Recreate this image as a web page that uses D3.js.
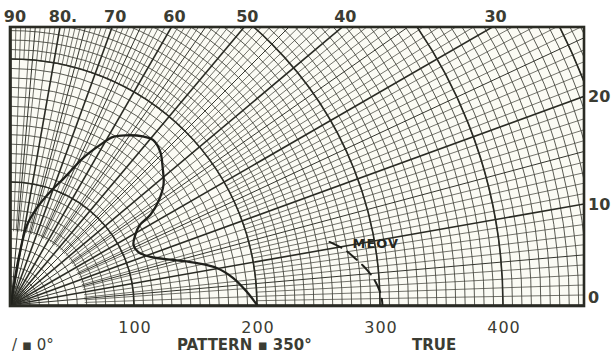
<!DOCTYPE html>
<html>
<head>
<meta charset="utf-8">
<script src="https://cdn.jsdelivr.net/npm/d3@7"></script>
<style>
    body { margin: 0; background: #ffffff; }
    text { font-family: "DejaVu Sans", sans-serif; fill: #3b3c33; }
</style>
</head>
<body>
<div id="chart"></div>
<script>
// elevation angle labels (degrees) along the top and right edges
const topAngles = [90, 80, 70, 60, 50, 40, 30];
const rightAngles = [20, 10, 0];
// field scale labels along the bottom
const fieldTicks = [100, 200, 300, 400];

// measured vertical pattern: elevation (deg) and field
const patternElev  = [90, 81.6, 80.4, 78.7, 75.0, 71.0, 66.7, 63.9, 60.9, 58.7, 55.7, 52.0, 49.3, 45.8,
                      42.0, 38.3, 35.0, 32.9, 31.8, 29.4, 26.2, 22.7, 19.0, 15.5, 12.7, 10.2, 6.9, 3.2, 0];
const patternField = [0, 22, 44, 66, 82, 97, 115, 133, 149, 160, 167, 174, 177, 174,
                      166, 158, 146, 135, 123, 116, 111, 112, 120, 137, 155, 170, 182, 192, 200];

// MEOV (dashed) near the horizon
const meovElev  = [11.2, 9.4, 7.8, 5.6, 3.6, 1.5, 0];
const meovField = [264, 275, 282, 291, 297, 301, 302];

class VerticalPattern {
    constructor(target, width=612, height=356) {
        this.origin = { x: 11, y: 305 };
        this.frame = { left: 10, top: 27, right: 584, bottom: 306 };
        this.maxField = 540;
        this.r = d3.scaleLinear()
                   .domain([0, 400])
                   .range([0, 492]);

        this.svg = d3.select(target)
                     .append("svg")
                     .attr("width", width)
                     .attr("height", height);

        this.svg.append("defs")
                .append("clipPath")
                .attr("id", "frame-clip")
                .append("rect")
                .attr("x", this.frame.left)
                .attr("y", this.frame.top)
                .attr("width", this.frame.right - this.frame.left)
                .attr("height", this.frame.bottom - this.frame.top);

        this.svg.append("rect")
                .attr("x", this.frame.left)
                .attr("y", this.frame.top)
                .attr("width", this.frame.right - this.frame.left)
                .attr("height", this.frame.bottom - this.frame.top)
                .style("fill", "#fbfbf4");

        this.plot = this.svg.append("g")
                            .attr("clip-path", "url(#frame-clip)")
                            .append("g")
                            .attr("transform", `translate(${this.origin.x}, ${this.origin.y})`);
    }

    point(elev, field) {
        let a = elev * Math.PI / 180;
        return [this.r(field) * Math.cos(a), -this.r(field) * Math.sin(a)];
    }

    drawGrid() {
        let this_ = this;
        let ringStep = 100 / 13;
        let rings = d3.range(1, Math.floor(this.maxField / ringStep) + 1).map(i => i * ringStep);

        this.plot.append("g")
            .selectAll("circle")
            .data(rings)
            .enter()
            .append("circle")
            .attr("r", d => this_.r(d))
            .style("fill", "none")
            .style("stroke", "#3c3d35")
            .style("stroke-width", 0.85);

        // radials: heavy every 10, medium every 5, fine every 2 then every 1 further out
        let radials = d3.range(0, 91).map(function(deg) {
            let start = 200, w = 0.75, c = "#45463d";
            if (deg % 10 == 0) { start = 0; w = 1.6; c = "#2a2b24"; }
            else if (deg % 5 == 0) { start = 6; w = 1.0; c = "#34352e"; }
            else if (deg % 2 == 0) { start = 60; }
            return { deg: deg, start: start, w: w, c: c };
        });

        this.plot.append("g")
            .selectAll("line")
            .data(radials)
            .enter()
            .append("line")
            .attr("x1", d => this_.point(d.deg, d.start)[0])
            .attr("y1", d => this_.point(d.deg, d.start)[1])
            .attr("x2", d => this_.point(d.deg, this_.maxField)[0])
            .attr("y2", d => this_.point(d.deg, this_.maxField)[1])
            .style("stroke", d => d.c)
            .style("stroke-width", d => d.w);

        this.plot.append("g")
            .selectAll("circle")
            .data([100, 200, 300, 400, 500])
            .enter()
            .append("circle")
            .attr("r", d => this_.r(d))
            .style("fill", "none")
            .style("stroke", "#2a2b24")
            .style("stroke-width", 1.6);

        this.svg.append("rect")
            .attr("x", this.frame.left)
            .attr("y", this.frame.top)
            .attr("width", this.frame.right - this.frame.left)
            .attr("height", this.frame.bottom - this.frame.top)
            .style("fill", "none")
            .style("stroke", "#2a2b24")
            .style("stroke-width", 2.6);
    }

    addPattern(elev, field, dashed) {
        let this_ = this;
        let pts = elev.map((e, i) => this_.point(e, field[i]));
        let lineGenerator = d3.line()
                              .curve(d3.curveCatmullRom.alpha(0.5));
        this.plot.append("path")
            .attr("d", lineGenerator(pts))
            .style("fill", "none")
            .style("stroke", "#1f201b")
            .style("stroke-width", dashed ? 2 : 2.3)
            .style("stroke-dasharray", dashed ? "13,7" : null)
            .style("stroke-linecap", "round");
    }

    drawLabels() {
        let o = this.origin, f = this.frame, this_ = this;
        let topDist = o.y - f.top;

        this.svg.append("g")
            .selectAll("text")
            .data(topAngles)
            .enter()
            .append("text")
            .attr("x", d => o.x + 3 + (d == 90 ? 1 : topDist / Math.tan(d * Math.PI / 180)))
            .attr("y", 22)
            .attr("text-anchor", "middle")
            .style("font-size", "16px")
            .style("font-weight", "bold")
            .text(d => d == 80 ? "80." : d);

        let rightDist = f.right - o.x;
        this.svg.append("g")
            .selectAll("text")
            .data(rightAngles)
            .enter()
            .append("text")
            .attr("x", 588)
            .attr("y", d => Math.min(o.y - rightDist * Math.tan(d * Math.PI / 180), 297) + 6)
            .style("font-size", "16px")
            .style("font-weight", "bold")
            .text(d => d);

        this.svg.append("g")
            .selectAll("text")
            .data(fieldTicks)
            .enter()
            .append("text")
            .attr("x", d => o.x + this_.r(d) + 1)
            .attr("y", 333)
            .attr("text-anchor", "middle")
            .style("font-size", "16px")
            .style("letter-spacing", "1px")
            .text(d => d);

        let meovAt = this.point(meovElev[0], meovField[0]);
        this.svg.append("text")
            .attr("x", o.x + meovAt[0] + 23)
            .attr("y", o.y + meovAt[1] + 6)
            .style("font-size", "13px")
            .style("font-weight", "bold")
            .style("letter-spacing", "1px")
            .style("fill", "#26271f")
            .text("MEOV");

        this.svg.append("text")
            .attr("x", 12).attr("y", 350)
            .style("font-size", "15px")
            .text("/ \u25AA 0\u00B0");

        this.svg.append("text")
            .attr("x", 177).attr("y", 350)
            .style("font-size", "15px")
            .style("font-weight", "bold")
            .text("PATTERN \u25AA 350\u00B0");

        this.svg.append("text")
            .attr("x", 412).attr("y", 350)
            .style("font-size", "15px")
            .style("font-weight", "bold")
            .text("TRUE");
    }
}

let chart = new VerticalPattern("#chart");
chart.drawGrid();
chart.addPattern(patternElev, patternField, false);
chart.addPattern(meovElev, meovField, true);
chart.drawLabels();
</script>
</body>
</html>
